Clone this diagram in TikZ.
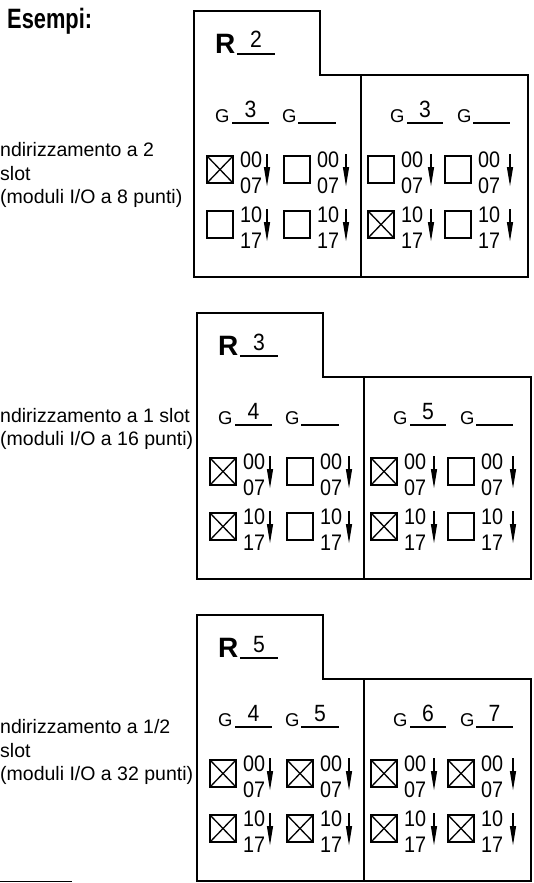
\documentclass[tikz,border=0pt]{standalone}
\usepackage{fontspec}
\setmainfont{Liberation Sans}
\newfontfamily\numfont[FakeStretch=0.88]{Liberation Sans}
\newfontfamily\headfont[FakeStretch=0.78]{Liberation Sans}
\newfontfamily\handfont[FakeStretch=0.9]{Liberation Sans}
\tikzset{
 frame/.style={line width=2pt, line join=miter},
 uline/.style={line width=1.3pt},
 cbox/.style={line width=1.7pt},
 cross/.style={line width=1.3pt},
 lbl/.style={inner sep=0pt, anchor=base west, font=\fontsize{19.5}{19.5}\selectfont},
 head/.style={inner sep=0pt, anchor=base west, font=\headfont\fontsize{28}{28}\selectfont\bfseries},
 gtxt/.style={inner sep=0pt, anchor=base west, font=\fontsize{18.5}{18.5}\selectfont},
 rtxt/.style={inner sep=0pt, anchor=base west, font=\fontsize{28}{28}\selectfont\bfseries},
 hand/.style={inner sep=0pt, anchor=base, font=\handfont\fontsize{23.5}{23.5}\selectfont},
 numtxt/.style={inner sep=0pt, anchor=base west, font=\numfont\fontsize{22.5}{22.5}\selectfont},
}
\newcommand\mypanel[9]{%
 \begin{scope}[shift={(#1,#2)}]
  \draw[frame] (0,0) -- (126,0) -- (126,64) -- (334,64) -- (334,266) -- (0,266) -- cycle;
  \draw[frame] (167,64) -- (167,266);
  \node[rtxt] (#3R) at (21,42) {R};
  \draw[uline] (43,43) -- (81,43);
  \node[hand] (#3r) at (62,37) {#4};
  \foreach \gx/\ux/\uy/\dg/\nm in {21/38/75/#5/a, 88/104/142/#6/b, 196/213/249/#7/c, 263/279/316/#8/d} {
    \node[gtxt] (#3G\nm) at (\gx,111) {G};
    \draw[uline] (\ux,112) -- (\uy,112);
    \node[hand] (#3h\nm) at ({(\ux+\uy)/2},106) {\dg};
  }
  \foreach \bx/\ax in {13/73, 90/152, 174/237, 251/316} {
    \foreach \by/\ta/\tb in {145/00/07, 200/10/17} {
      \draw[cbox] (\bx,\by) rectangle ++(26,27);
      \node[numtxt] (#3t\bx x\by) at (\bx+33,\by+11) {\ta};
      \node[numtxt] (#3u\bx x\by) at (\bx+33,\by+37) {\tb};
      \draw[line width=1.1pt] (\ax,\by-2) -- (\ax,\by+14);
      \fill (\ax-3.2,\by+11) -- (\ax+3.2,\by+11) -- (\ax,\by+30) -- cycle;
    }
  }
  \foreach \cx/\cy in {#9} {
    \draw[cross] (\cx,\cy) -- ++(26,27) (\cx+26,\cy) -- ++(-26,27);
  }
 \end{scope}}
\begin{document}
\begin{tikzpicture}[x=1pt,y=-1pt]
\useasboundingbox (0,0) rectangle (533,883);
\node[head] (esempi) at (7,29) {Esempi:};
% panel 1 labels
\node[lbl] (l1a) at (0,156) {ndirizzamento a 2};
\node[lbl] (l1b) at (0,180) {slot};
\node[lbl] (l1c) at (0,203) {(moduli I/O a 8 punti)};
% panel 2 labels
\node[lbl] (l2a) at (0,422) {ndirizzamento a 1 slot};
\node[lbl] (l2b) at (0,445) {(moduli I/O a 16 punti)};
% panel 3 labels
\node[lbl] (l3a) at (0,733) {ndirizzamento a 1/2};
\node[lbl] (l3b) at (0,757) {slot};
\node[lbl] (l3c) at (0,780) {(moduli I/O a 32 punti)};
\mypanel{194}{11}{pa}{2}{3}{}{3}{}{13/145, 174/200}
\mypanel{197}{313}{pb}{3}{4}{}{5}{}{13/145, 13/200, 174/145, 174/200}
\mypanel{197}{615}{pc}{5}{4}{5}{6}{7}{13/145, 13/200, 90/145, 90/200, 174/145, 174/200, 251/145, 251/200}
\coordinate (bl1) at (0,881.5);
\coordinate (bl2) at (72,881.5);
\draw[line width=1.5pt] (bl1) -- (bl2);
\end{tikzpicture}
\end{document}
